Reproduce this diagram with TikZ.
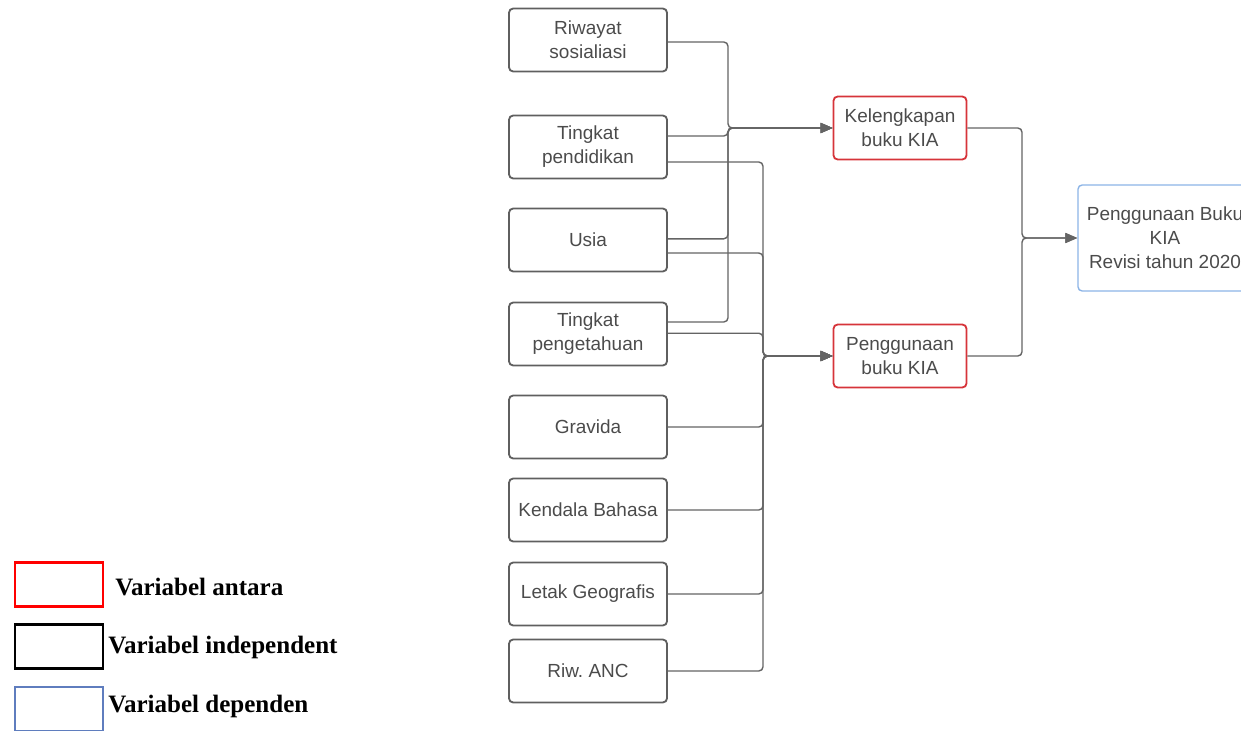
\documentclass[tikz,border=0pt]{standalone}
\usepackage{fontspec}
\setmainfont{Liberation Sans}
\newfontfamily\legendfont{Liberation Serif}
\usetikzlibrary{arrows.meta}
\definecolor{boxgray}{RGB}{95,95,95}
\definecolor{linegray}{RGB}{100,100,100}
\definecolor{txtgray}{RGB}{75,75,75}
\definecolor{antred}{RGB}{214,52,58}
\definecolor{depblue}{RGB}{140,180,230}
\definecolor{legblue}{RGB}{95,125,190}
\frenchspacing
\begin{document}
\begin{tikzpicture}[x=0.025cm,y=-0.025cm,
  var/.style={draw=boxgray, line width=1.3pt, rounded corners=3pt, minimum width=3.95cm, minimum height=1.575cm, align=center, text=txtgray, font=\fontsize{13.5}{17}\selectfont, inner sep=1pt},
  antara/.style={var, draw=antred, minimum width=3.325cm},
  depvar/.style={var, draw=depblue, line width=1pt, minimum width=4.35cm, minimum height=2.65cm},
  conn/.style={draw=linegray, line width=1pt, rounded corners=3pt},
  arr/.style={conn, -{Triangle[length=3mm,width=2.5mm]}},
  legbox/.style={line width=1.8pt, minimum width=2.2cm, minimum height=1.1cm, inner sep=0pt},
  legtxt/.style={anchor=base west, inner sep=0pt, font=\legendfont\bfseries\fontsize{17.8}{20}\selectfont}
]
\useasboundingbox (0,0) rectangle (1241,730);
\node[var] (riw) at (588,40) {Riwayat\\sosialiasi};
\node[var] (pend) at (588,147) {Tingkat\\pendidikan};
\node[var] (usia) at (588,240) {Usia};
\node[var] (penget) at (588,334) {Tingkat\\pengetahuan};
\node[var] (grav) at (588,427) {Gravida};
\node[var] (kend) at (588,510) {Kendala Bahasa};
\node[var] (letak) at (588,594) {Letak Geografis};
\node[var] (anc) at (588,671) {Riw. ANC};
\node[antara] (kel) at (900,128) {Kelengkapan\\buku KIA};
\node[antara] (peng) at (900,356) {Penggunaan\\buku KIA};
\node[depvar] (dep) at (1165,238) {Penggunaan Buku\\KIA\\Revisi tahun 2020};
\draw[arr] ([yshift=-0.05cm]riw.east) -| (728,128) -- (kel.west);
\draw[arr] ([yshift=0.275cm]pend.east) -| (728,128) -- (kel.west);
\draw[arr] ([yshift=0.03cm]usia.east) -| (728,128) -- (kel.west);
\draw[arr] ([yshift=0.3cm]penget.east) -| (728,128) -- (kel.west);
\draw[arr] ([yshift=-0.375cm]pend.east) -| (763,356) -- (peng.west);
\draw[arr] ([yshift=-0.325cm]usia.east) -| (763,356) -- (peng.west);
\draw[arr] ([yshift=0.02cm]penget.east) -| (763,356) -- (peng.west);
\draw[arr] (grav.east) -| (763,356) -- (peng.west);
\draw[arr] (kend.east) -| (763,356) -- (peng.west);
\draw[arr] (letak.east) -| (763,356) -- (peng.west);
\draw[arr] (anc.east) -| (763,356) -- (peng.west);
\draw[arr] (kel.east) -| (1022,238) -- (dep.west);
\draw[arr] (peng.east) -| (1022,238) -- (dep.west);
\node[legbox, draw=red] (lga) at (59,584.5) {};
\node[legbox, draw=black] (lgb) at (59,646.5) {};
\node[legbox, draw=legblue] (lgc) at (59,709) {};
\node[legtxt] (lta) at (115,595) {Variabel antara};
\node[legtxt] (ltb) at (108,653) {Variabel independent};
\node[legtxt] (ltc) at (108,712) {Variabel dependen};
\end{tikzpicture}
\end{document}
